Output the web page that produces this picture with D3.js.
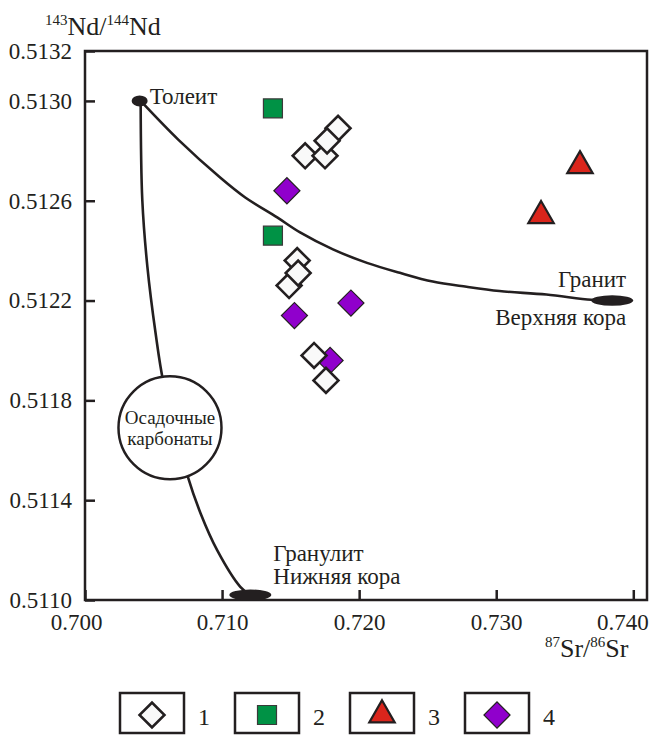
<!DOCTYPE html>
<html>
<head>
<meta charset="utf-8">
<script src="https://cdn.jsdelivr.net/npm/d3@7"></script>
<style>
  body { margin: 0; background: #fff; }
  svg text { font-family: 'Liberation Serif', Tinos, 'DejaVu Serif', serif; fill: #231f20; }
</style>
</head>
<body>
<div id="chart"></div>
<script>
// Sr-Nd isotope data
const series1 = [ // open diamonds
  [0.71846, 0.51289], [0.71606, 0.51278], [0.71751, 0.51278], [0.71766, 0.51284],
  [0.71548, 0.51236], [0.71489, 0.51226], [0.71555, 0.51231],
  [0.71671, 0.51198], [0.71758, 0.51188]
];
const series2 = [[0.71371, 0.51297], [0.71371, 0.51246]]; // green squares
const series3 = [[0.73611, 0.51274], [0.73327, 0.51254]]; // red triangles
const series4 = [[0.71473, 0.51264], [0.71940, 0.51219], [0.71528, 0.51214], [0.71788, 0.51196]]; // purple diamonds

// end members
const tholeiite = [0.70406, 0.51300];
const granite = [0.73846, 0.51220];
const granulite = [0.71206, 0.51102];
const carbonates = [0.70620, 0.51169];

// mixing curves
const upperCurve = [
  tholeiite, [0.70682, 0.512844], [0.70988, 0.512692], [0.71169, 0.512613],
  [0.71402, 0.512533], [0.71569, 0.512473], [0.71809, 0.512405], [0.72057, 0.512351],
  [0.72297, 0.512311], [0.72537, 0.512276], [0.72784, 0.512255], [0.73024, 0.512238],
  [0.73366, 0.512224], [0.73693, 0.512203], granite
];
const lowerCurve = [
  tholeiite, [0.70418, 0.512603], [0.70455, 0.512336], [0.70515, 0.512069],
  [0.70571, 0.511875], [0.70660, 0.511690], [0.70750, 0.511494], [0.70842, 0.511349],
  [0.70964, 0.511200], [0.71133, 0.511053], granulite
];

const xTicks = [0.700, 0.710, 0.720, 0.730, 0.740];
const yTicks = [0.5110, 0.5114, 0.5118, 0.5122, 0.5126, 0.5130, 0.5132];
const legendLabels = ["1", "2", "3", "4"];

const W = 652, H = 735;
const plot = { left: 85, right: 647, top: 51, bottom: 600 };
const serif = "'Liberation Serif', Tinos, 'DejaVu Serif', serif";

const svg = d3.select("#chart").append("svg")
  .attr("width", W).attr("height", H)
  .attr("font-family", serif);

const x = d3.scaleLinear().domain([0.700, 0.741]).range([plot.left, plot.right]);
const y = d3.scaleLinear().domain([0.5110, 0.5132]).range([plot.bottom, plot.top]);

// styles per series
const styles = [
  { type: "diamond", fill: "#f9f9f9", stroke: "#231f20", sw: 2.6, size: 310 },
  { type: "square", fill: "#009245", stroke: "#3a3a3a", sw: 1.2, size: 361 },
  { type: "triangle", fill: "#da251c", stroke: "#231f20", sw: 2.2, size: 280 },
  { type: "diamond", fill: "#9000cc", stroke: "#231f20", sw: 1.2, size: 340 }
];

function symbolPath(st) {
  const t = st.type === "triangle" ? d3.symbolTriangle : d3.symbolSquare;
  return d3.symbol().type(t).size(st.size)();
}
function symbolTransform(st, px, py) {
  return st.type === "diamond" ? `translate(${px},${py}) rotate(45)` : `translate(${px},${py})`;
}

// axes with inward ticks
const xAxis = svg.append("g")
  .attr("transform", `translate(0,${plot.bottom})`)
  .call(d3.axisBottom(x).tickValues(xTicks).tickSize(-10).tickSizeOuter(0)
    .tickPadding(14).tickFormat(d3.format(".3f")));
const yAxis = svg.append("g")
  .attr("transform", `translate(${plot.left},0)`)
  .call(d3.axisLeft(y).tickValues(yTicks).tickSize(-10).tickSizeOuter(0)
    .tickPadding(13).tickFormat(d3.format(".4f")));

[xAxis, yAxis].forEach(g => {
  g.attr("font-family", serif);
  g.select(".domain").remove();
  g.selectAll(".tick line").attr("stroke", "#231f20").attr("stroke-width", 2.5);
  g.selectAll(".tick text").attr("font-size", 23).attr("fill", "#231f20");
});
// nudge the outer x labels like the original
xAxis.selectAll(".tick text").attr("x", (d, i) => i === 0 ? -9 : (i === xTicks.length - 1 ? -11 : 0));

// frame
svg.append("rect")
  .attr("x", plot.left).attr("y", plot.top)
  .attr("width", plot.right - plot.left).attr("height", plot.bottom - plot.top)
  .attr("fill", "none").attr("stroke", "#231f20").attr("stroke-width", 2.5);

// curves
const line = d3.line().x(d => x(d[0])).y(d => y(d[1])).curve(d3.curveCatmullRom);
[upperCurve, lowerCurve].forEach(c => {
  svg.append("path").attr("d", line(c))
    .attr("fill", "none").attr("stroke", "#231f20").attr("stroke-width", 2.6);
});

// end-member ellipses
svg.append("ellipse").attr("cx", x(tholeiite[0]) - 1).attr("cy", y(tholeiite[1]))
  .attr("rx", 8).attr("ry", 5.5).attr("fill", "#231f20");
svg.append("ellipse").attr("cx", x(granite[0])).attr("cy", y(granite[1]))
  .attr("rx", 21).attr("ry", 5.2).attr("fill", "#231f20");
svg.append("ellipse").attr("cx", x(granulite[0])).attr("cy", y(granulite[1]))
  .attr("rx", 21).attr("ry", 5.5).attr("fill", "#231f20");

// sedimentary carbonates circle
const cx = x(carbonates[0]), cy = y(carbonates[1]);
svg.append("circle").attr("cx", cx).attr("cy", cy).attr("r", 51.5)
  .attr("fill", "#fff").attr("stroke", "#231f20").attr("stroke-width", 2.5);
svg.append("text").attr("x", cx).attr("y", cy - 4).attr("text-anchor", "middle")
  .attr("font-size", 19).text("Осадочные");
svg.append("text").attr("x", cx).attr("y", cy + 17).attr("text-anchor", "middle")
  .attr("font-size", 19).text("карбонаты");

// labels
function label(txt, px, py, anchor) {
  svg.append("text").attr("x", px).attr("y", py).attr("text-anchor", anchor || "start")
    .attr("font-size", 23).text(txt);
}
label("Толеит", x(tholeiite[0]) + 9, y(tholeiite[1]) + 3);
label("Гранит", x(granite[0]) + 14, y(granite[1]) - 14, "end");
label("Верхняя кора", x(granite[0]) + 14, y(granite[1]) + 24, "end");
label("Гранулит", x(granulite[0]) + 23, y(granulite[1]) - 34);
label("Нижняя кора", x(granulite[0]) + 23, y(granulite[1]) - 11);

// data points
const allSeries = [series4, series2, series3, series1];
const styleIdx = [3, 1, 2, 0];
allSeries.forEach((s, k) => {
  const st = styles[styleIdx[k]];
  svg.append("g").selectAll("path").data(s).join("path")
    .attr("d", symbolPath(st))
    .attr("transform", d => symbolTransform(st, x(d[0]), y(d[1])))
    .attr("fill", st.fill).attr("stroke", st.stroke).attr("stroke-width", st.sw)
    .attr("stroke-linejoin", "miter");
});

// axis titles
const yt = svg.append("text").attr("x", 45).attr("y", 35).attr("font-size", 26);
yt.append("tspan").attr("font-size", 15).attr("dy", -10).text("143");
yt.append("tspan").attr("dy", 10).text("Nd/");
yt.append("tspan").attr("font-size", 15).attr("dy", -10).text("144");
yt.append("tspan").attr("dy", 10).text("Nd");

const xt = svg.append("text").attr("x", 545).attr("y", 657).attr("font-size", 26);
xt.append("tspan").attr("font-size", 15).attr("dy", -10).text("87");
xt.append("tspan").attr("dy", 10).text("Sr/");
xt.append("tspan").attr("font-size", 15).attr("dy", -10).text("86");
xt.append("tspan").attr("dy", 10).text("Sr");

// legend
const legend = svg.append("g");
legendLabels.forEach((lab, i) => {
  const bx = 120 + i * 115, by = 693;
  legend.append("rect").attr("x", bx).attr("y", by).attr("width", 64).attr("height", 40)
    .attr("fill", "#fff").attr("stroke", "#231f20").attr("stroke-width", 2.5);
  const st = styles[i];
  legend.append("path").attr("d", symbolPath(st))
    .attr("transform", symbolTransform(st, bx + 32, by + 22))
    .attr("fill", st.fill).attr("stroke", st.stroke).attr("stroke-width", st.sw);
  legend.append("text").attr("x", bx + 78).attr("y", by + 32).attr("font-size", 24).text(lab);
});
</script>
</body>
</html>
